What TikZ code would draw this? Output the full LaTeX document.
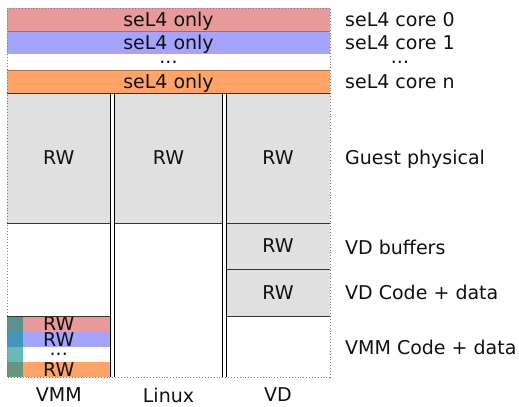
\documentclass[tikz,border=0pt]{standalone}
\usepackage{fontspec}
\setmainfont{DejaVu Sans}
\definecolor{redc}{RGB}{234,153,153}
\definecolor{bluec}{RGB}{164,164,255}
\definecolor{orangec}{RGB}{255,164,102}
\definecolor{grayc}{RGB}{224,224,224}
\definecolor{tealc}{RGB}{0,141,141}
\definecolor{linec}{RGB}{51,51,51}
\definecolor{txtc}{RGB}{17,17,17}
\begin{document}
\begin{tikzpicture}[x=1bp,y=-1bp,
  every node/.style={font=\fontsize{19bp}{22bp}\selectfont, text=txtc},
  blk/.style={anchor=north west, inner sep=0pt, outer sep=0pt, text height=13.5bp, text depth=0pt},
  dots/.style={text height=2bp, text depth=0pt},
  lbl/.style={anchor=west, inner sep=0pt},
  sep/.style={draw=linec, line width=0.9bp},
  vsep/.style={draw=black, line width=0.9bp},
  overlay strip/.style={fill=tealc, fill opacity=0.6, draw=none}
]
\useasboundingbox (0,0) rectangle (519,406);
% top bands
\node[blk, fill=redc, minimum width=323bp, minimum height=23bp] (c0) at (7,8) {seL4 only};
\node[blk, fill=bluec, minimum width=323bp, minimum height=23bp] (c1) at (7,31) {seL4 only};
\node[blk, dots, fill=white, minimum width=323bp, minimum height=16bp] (cd) at (7,54) {...};
\node[blk, fill=orangec, minimum width=323bp, minimum height=23bp] (cn) at (7,70) {seL4 only};
% guest physical
\node[blk, fill=grayc, minimum width=103.5bp, minimum height=130bp] (g1) at (7,93) {RW};
\node[blk, fill=grayc, minimum width=108bp, minimum height=130bp] (g2) at (114.5,93) {RW};
\node[blk, fill=grayc, minimum width=104bp, minimum height=130bp] (g3) at (226,93) {RW};
% VD column
\node[blk, fill=grayc, minimum width=104bp, minimum height=46bp] (vb) at (226,223) {RW};
\node[blk, fill=grayc, minimum width=104bp, minimum height=47bp] (vc) at (226,269) {RW};
% VMM small bands
\node[blk, fill=redc, minimum width=103.5bp, minimum height=16bp] (m0) at (7,316) {RW};
\node[blk, fill=bluec, minimum width=103.5bp, minimum height=15bp] (m1) at (7,332) {RW};
\node[blk, dots, fill=white, minimum width=103.5bp, minimum height=15bp] (md) at (7,347) {...};
\node[blk, fill=orangec, minimum width=103.5bp, minimum height=15bp] (mn) at (7,362) {RW};
\fill[overlay strip] (m0.north west) rectangle ([xshift=16bp]mn.south west);
% separators
\draw[draw=redc!70!black, line width=0.5bp] (c0.south west) -- (c0.south east);
\draw[draw=orangec!70!black, line width=0.5bp] (cn.north west) -- (cn.north east);
\draw[sep] (cn.south west) -- (cn.south east);
\draw[sep] (g1.south west) -- (g1.south east);
\draw[sep] (g2.south west) -- (g2.south east);
\draw[sep] (g3.south west) -- (g3.south east);
\draw[sep] (vb.south west) -- (vb.south east);
\draw[sep] (vc.south west) -- (vc.south east);
\draw[sep] (m0.north west) -- (m0.north east);
\coordinate (bot1) at (110.5,377);
\coordinate (bot2) at (114.5,377);
\coordinate (bot3) at (222.5,377);
\coordinate (bot4) at (226,377);
\draw[vsep] (g1.north east) -- (bot1);
\draw[vsep] (g2.north west) -- (bot2);
\draw[vsep] (g2.north east) -- (bot3);
\draw[vsep] (g3.north west) -- (bot4);
% outer dotted border
\coordinate (otl) at (7,8);
\coordinate (obr) at (330,377);
\draw[draw=gray, dotted, line width=0.9bp] (otl) rectangle (obr);
% column labels
\node (lvmm) at (58.75,395) {VMM};
\node (llin) at (168.5,395) {Linux};
\node (lvd) at (278,395) {VD};
% right labels
\node[lbl] (r0) at (345,19.5) {seL4 core 0};
\node[lbl] (r1) at (345,43) {seL4 core 1};
\node[dots] (rd) at (400,62) {...};
\node[lbl] (rn) at (345,82) {seL4 core n};
\node[lbl] (rg) at (345,159) {Guest physical};
\node[lbl] (rb) at (345,247) {VD buffers};
\node[lbl] (rc) at (345,292) {VD Code + data};
\node[lbl] (rm) at (345,347) {VMM Code + data};
\end{tikzpicture}
\end{document}
